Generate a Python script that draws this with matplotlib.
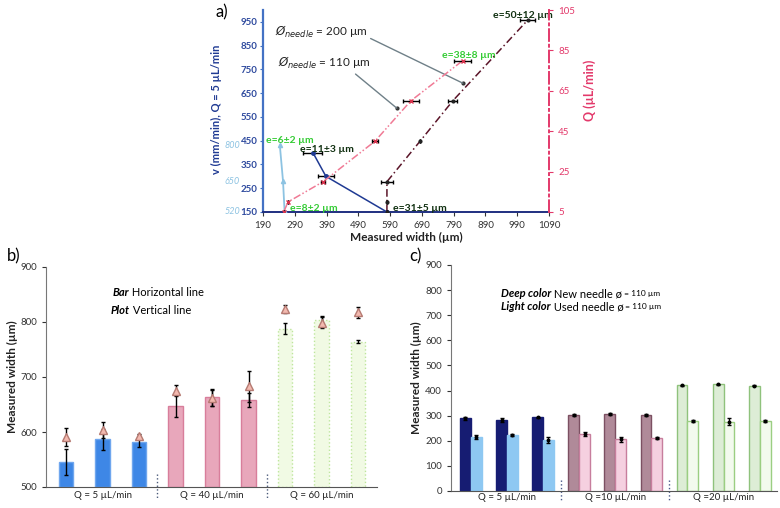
import numpy as np
import matplotlib
matplotlib.use('Agg')
import matplotlib.pyplot as plt
from matplotlib import transforms

plt.rcParams['font.family'] = ['Lato', 'DejaVu Sans']

# ---- data panel a ----
# light blue: v = 520 / 650 / 800 mm/min, drawn on its own scale (offset 370 from left axis)
light_w = [258, 253, 243]
light_v = [520, 650, 800]
light_shift = 370

# navy: Q = 5 uL/min, v vs width
navy_w = [347, 388, 580]
navy_v = [400, 300, 150]
navy_err = [30, 24, 0]

# needle 110 um (Q axis)
n110_w = [255, 269, 379, 542, 655, 819]
n110_q = [5, 10, 20, 40, 60, 80]
n110_err = [0, 0, 6, 10, 25, 27]

# needle 200 um (Q axis)
n200_w = [580, 580, 580, 684, 787, 1023]
n200_q = [5, 10, 20, 40, 60, 100]
n200_err = [0, 0, 19, 0, 15, 24]

# ---- data panel b ----
b_bar = [546, 587, 582, 647, 663, 658, 788, 803, 764]
b_bar_err = [24, 19, 10, 20, 15, 12, 10, 8, 3]
b_tri = [591, 604, 592, 675, 662, 683, 824, 799, 818]
b_tri_err = [17, 15, 5, 10, 14, 28, 7, 10, 10]
b_groups = ['Q = 5 µL/min', 'Q = 40 µL/min', 'Q = 60 µL/min']

# ---- data panel c ----
c_new = [289, 283, 293, 302, 305, 301, 421, 426, 420]
c_new_err = [7, 9, 3, 4, 4, 4, 2, 2, 3]
c_used = [216, 224, 203, 227, 206, 212, 279, 276, 280]
c_used_err = [7, 3, 12, 8, 10, 5, 5, 14, 4]
c_groups = ['Q = 5 µL/min', 'Q =10 µL/min', 'Q =20 µL/min']

W, H = 780, 508
fig = plt.figure(figsize=(7.8, 5.08), dpi=100)


def px_axes(x0, y0, x1, y1):
    # pixel box -> axes
    return fig.add_axes([x0 / W, 1 - y1 / H, (x1 - x0) / W, (y1 - y0) / H])


# ================= panel a =================
ax = px_axes(263, 10, 549, 212)
axq = ax.twinx()
ax.set_xlim(190, 1090)
ax.set_ylim(150, 1000)
axq.set_ylim(5, 105)

blue = '#4472C4'
navy = '#1F2F80'
red = '#E3386A'

for s in ['top', 'right']:
    ax.spines[s].set_visible(False)
ax.spines['left'].set_color(blue)
ax.spines['left'].set_linewidth(1.6)
ax.spines['bottom'].set_color(navy)
ax.spines['bottom'].set_linewidth(1.4)
for s in ['top', 'left', 'bottom']:
    axq.spines[s].set_visible(False)
axq.spines['right'].set_color(red)
axq.spines['right'].set_linestyle((0, (6, 2, 1, 2)))
axq.spines['right'].set_linewidth(1.4)

ax.set_xticks(np.arange(190, 1091, 100))
ax.set_yticks(np.arange(150, 951, 100))
axq.set_yticks(np.arange(5, 106, 20))
ax.tick_params(axis='x', labelsize=7, colors='#333333', length=3, width=0.8)
ax.tick_params(axis='y', labelsize=7, colors=blue, labelcolor='#2E4A9E', length=2.5, pad=1.5)
axq.tick_params(axis='y', labelsize=7, colors=red, labelcolor=red, length=3)
for lab in ax.get_yticklabels():
    lab.set_fontweight('bold')

ax.set_xlabel('Measured width (µm)', fontsize=8.5, fontweight='bold', color='#222222')
ax.xaxis.set_label_coords(0.5, -0.1)
ax.set_ylabel('v (mm/min), Q = 5 µL/min', fontsize=8, fontweight='bold', color='#1F3A93')
ax.yaxis.set_label_coords(-0.145, 0.51)
axq.set_ylabel('Q (µL/min)', fontsize=9, fontweight='bold', color=red, rotation=90)
axq.yaxis.set_label_coords(1.12, 0.6)

# light-blue series, extra labels
lv = [v - light_shift for v in light_v]
ax.plot(light_w, lv, color='#8DC3E2', lw=1.3, marker='^', ms=3, zorder=3)
bt = transforms.blended_transform_factory(ax.transAxes, ax.transData)
for v, y in zip(light_v, lv):
    ax.text(-0.08, y, str(v), transform=bt, ha='right', va='center',
            fontsize=6.5, style='italic', color='#8DC3E2')

# navy series
ax.plot(navy_w, navy_v, color='#1F3A93', lw=1.1, zorder=3)
ax.errorbar(navy_w, navy_v, xerr=navy_err, fmt='o', ms=2.5, color='#1F3A93',
            ecolor='black', elinewidth=1, capsize=1.5, zorder=4)

# Q-axis series
axq.plot(n110_w, n110_q, color='#F07A95', lw=1.1, ls=(0, (5, 1.5, 1, 1.5, 1, 1.5)), zorder=3)
axq.errorbar(n110_w, n110_q, xerr=n110_err, fmt='x', ms=2.5, mew=1, color='#D8344E',
             ecolor='black', elinewidth=1, capsize=1.5, zorder=4)
axq.plot(n200_w, n200_q, color='#5A1428', lw=1.1, ls=(0, (5, 2, 1, 2)), zorder=3)
axq.errorbar(n200_w, n200_q, xerr=n200_err, fmt='o', ms=2, color='#222222',
             ecolor='black', elinewidth=1, capsize=1.5, zorder=4)

# needle annotations
ax.annotate(r'$Ø_{needle}$ = 200 µm', xy=(819, 692), xytext=(228, 906),
            fontsize=8.5, va='center', color='#222222',
            arrowprops=dict(arrowstyle='-', color='#6F8088', lw=1, shrinkA=0, shrinkB=0,
                            relpos=(1, 0.2)))
ax.plot(819, 692, 'o', ms=2, color='#333333')
ax.annotate(r'$Ø_{needle}$ = 110 µm', xy=(611, 587), xytext=(237, 776),
            fontsize=8.5, va='center', color='#222222',
            arrowprops=dict(arrowstyle='-', color='#6F8088', lw=1, shrinkA=0, shrinkB=0,
                            relpos=(0.8, 0)))
ax.plot(611, 587, 'o', ms=2, color='#333333')

green = '#35CC35'
dark = '#0F2F0F'
e_labels = [('e=6±2 µm', 199, 450, green), ('e=8±2 µm', 275, 163, green),
            ('e=11±3 µm', 306, 415, dark), ('e=31±5 µm', 599, 163, dark),
            ('e=38±8 µm', 753, 810, green), ('e=50±12 µm', 913, 978, dark)]
for txt, x, y, c in e_labels:
    ax.text(x, y, txt, fontsize=7.5, fontweight='bold', color=c, va='center', zorder=5)

fig.text(215 / W, 1 - 12 / H, 'a)', fontsize=12, va='center', ha='left')

# ================= panel b =================
axb = px_axes(46, 267, 377, 487)
x = np.arange(9)
b_face = ['#3E87E6'] * 3 + ['#E8A7BB'] * 3 + ['#F1FAE4'] * 3
b_edge = ['#6FA6EE'] * 3 + ['#D87E9B'] * 3 + ['#BEE69C'] * 3
for i in range(9):
    axb.bar(x[i], b_bar[i] - 500, bottom=500, width=0.4, color=b_face[i], edgecolor=b_edge[i],
            linewidth=1, linestyle=':' if i >= 6 else '-', zorder=2)
axb.errorbar(x, b_bar, yerr=b_bar_err, fmt='none', ecolor='black', elinewidth=1,
             capsize=1.5, zorder=3)
axb.errorbar(x, b_tri, yerr=b_tri_err, fmt='^', ms=6, mfc='#F3B9AF', mec='#B57A72',
             ecolor='black', elinewidth=1, capsize=1.5, zorder=4)
axb.set_xlim(-0.55, 8.52)
axb.set_ylim(500, 900)
axb.set_yticks(np.arange(500, 901, 100))
axb.set_xticks([])
for s in ['top', 'right']:
    axb.spines[s].set_visible(False)
axb.spines['left'].set_color('#777777')
axb.spines['bottom'].set_color('#555555')
axb.tick_params(axis='y', labelsize=7, colors='#333333', length=3)
axb.set_ylabel('Measured width (µm)', fontsize=8.5, fontweight='bold', color='#222222')
axb.yaxis.set_label_coords(-0.085, 0.5)

bb = transforms.blended_transform_factory(axb.transData, axb.transAxes)
for k, g in enumerate(b_groups):
    axb.text(3 * k + 1, -0.04, g, transform=bb, ha='center', va='center', fontsize=7, color='#222222')
for sx in [2.5, 5.5]:
    axb.plot([sx, sx], [0.06, -0.05], transform=bb, ls=':', lw=1, color='#4A5A7A', clip_on=False)

t1 = axb.text(0.2, 0.886, 'Bar', transform=axb.transAxes, fontsize=8, fontweight='bold',
              style='italic', va='center')
axb.annotate(' Horizontal line', xy=(1, 0.5), xycoords=t1, va='center', fontsize=8)
t2 = axb.text(0.196, 0.80, 'Plot', transform=axb.transAxes, fontsize=8, fontweight='bold',
              style='italic', va='center')
axb.annotate(' Vertical line', xy=(1, 0.5), xycoords=t2, va='center', fontsize=8)
fig.text(14 / W, 1 - 256 / H, 'b)', fontsize=12, va='center', ha='center')

# ================= panel c =================
axc = px_axes(451, 265, 777, 491)
c_deep = ['#161C72'] * 3 + ['#B08A99'] * 3 + ['#DDEDD6'] * 3
c_deep_e = ['#161C72'] * 3 + ['#7C5062'] * 3 + ['#8FC27C'] * 3
c_light = ['#8EC8F2'] * 3 + ['#F5D0E0'] * 3 + ['#F3FAEE'] * 3
c_light_e = ['#8EC8F2'] * 3 + ['#C77E9D'] * 3 + ['#9BCE82'] * 3
w = 0.3
for i in range(9):
    axc.bar(x[i] - w / 2, c_new[i], width=w, color=c_deep[i], edgecolor=c_deep_e[i], lw=1, zorder=2)
    axc.bar(x[i] + w / 2, c_used[i], width=w, color=c_light[i], edgecolor=c_light_e[i], lw=1, zorder=2)
axc.errorbar(x - w / 2, c_new, yerr=c_new_err, fmt='o', ms=1.8, color='black',
             elinewidth=1, capsize=1.3, zorder=3)
axc.errorbar(x + w / 2, c_used, yerr=c_used_err, fmt='o', ms=1.8, color='black',
             elinewidth=1, capsize=1.3, zorder=3)
axc.set_xlim(-0.55, 8.48)
axc.set_ylim(0, 900)
axc.set_yticks(np.arange(0, 901, 100))
axc.set_xticks([])
for s in ['top', 'right']:
    axc.spines[s].set_visible(False)
axc.spines['left'].set_color('#777777')
axc.spines['bottom'].set_color('#555555')
axc.tick_params(axis='y', labelsize=7, colors='#333333', length=3)
axc.set_ylabel('Measured width (µm)', fontsize=8.5, fontweight='bold', color='#222222')
axc.yaxis.set_label_coords(-0.089, 0.5)

cb = transforms.blended_transform_factory(axc.transData, axc.transAxes)
for k, g in enumerate(c_groups):
    axc.text(3 * k + 1, -0.03, g, transform=cb, ha='center', va='center', fontsize=7, color='#222222')
for sx in [2.5, 5.5]:
    axc.plot([sx, sx], [0.05, -0.04], transform=cb, ls=':', lw=1, color='#4A5A8A', clip_on=False)

t3 = axc.text(0.154, 0.873, 'Deep color', transform=axc.transAxes, fontsize=8, fontweight='bold',
              style='italic', va='center')
t3b = axc.annotate(' New needle ø', xy=(1, 0.5), xycoords=t3, va='center', fontsize=8)
axc.annotate(' = 110 µm', xy=(1, 0.5), xycoords=t3b, va='center', fontsize=6)
t4 = axc.text(0.154, 0.815, 'Light color', transform=axc.transAxes, fontsize=8, fontweight='bold',
              style='italic', va='center')
t4b = axc.annotate(' Used needle ø', xy=(1, 0.5), xycoords=t4, va='center', fontsize=8)
axc.annotate(' = 110 µm', xy=(1, 0.5), xycoords=t4b, va='center', fontsize=6)
fig.text(415 / W, 1 - 256 / H, 'c)', fontsize=12, va='center', ha='center')

fig.savefig('out.png', dpi=100)
